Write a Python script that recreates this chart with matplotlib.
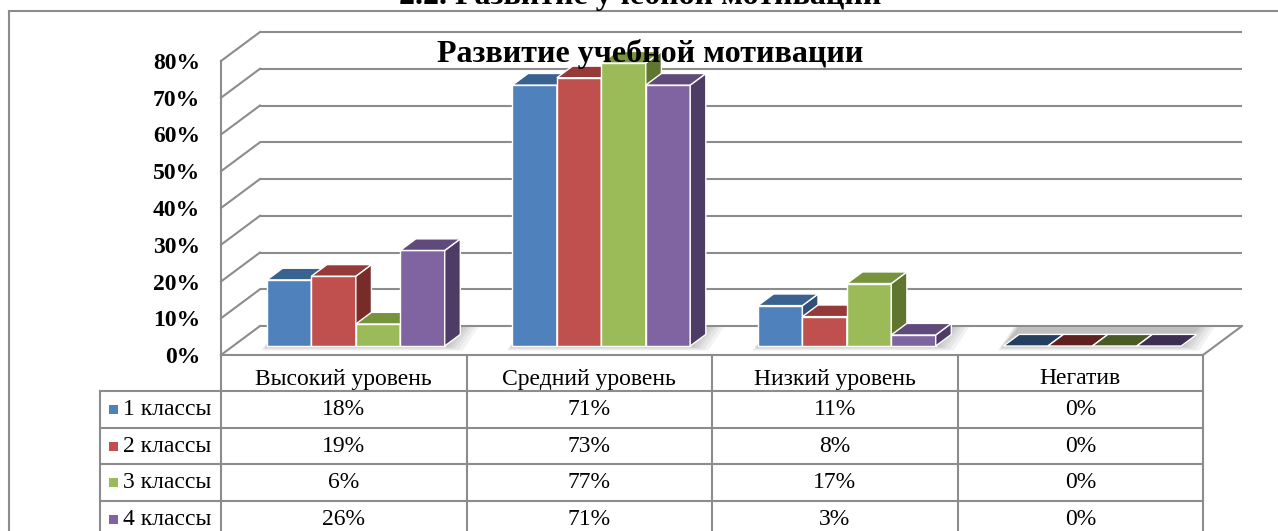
import matplotlib
matplotlib.use("Agg")
import matplotlib.pyplot as plt
from matplotlib.patches import Polygon, Rectangle

# ---- data ----
categories = ["Высокий уровень", "Средний уровень", "Низкий уровень", "Негатив"]
series_names = ["1 классы", "2 классы", "3 классы", "4 классы"]
class1 = [18, 71, 11, 0]
class2 = [19, 73, 8, 0]
class3 = [6, 77, 17, 0]
class4 = [26, 71, 3, 0]
yticks = [0, 10, 20, 30, 40, 50, 60, 70, 80]
ytick_labels = ["0%", "10%", "20%", "30%", "40%", "50%", "60%", "70%", "80%"]
chart_title = "Развитие учебной мотивации"
page_heading = "2.2. Развитие учебной мотивации"

series = [class1, class2, class3, class4]
front_colors = ["#4F81BD", "#C0504D", "#9BBB59", "#8064A2"]
top_colors = ["#3A6290", "#953A38", "#77933C", "#604A7B"]
side_colors = ["#2F5078", "#772C2A", "#5F7530", "#4E3C66"]
zero_colors = ["#243F60", "#5E2120", "#4A5A27", "#3D2F52"]
GRID = "#8C8C8C"
FONT = "Liberation Serif"

# ---- layout (pixel geometry of the figure) ----
W, H = 1278, 531
X0, CW = 221.0, 245.5      # front-left axis x, px per category
Y0, PY = 355.0, 3.675      # floor front y, px per percent


def dx(px):
    return (px - X0) / CW


def dy(py):
    return (Y0 - py) / PY


DX, DY = 39.0 / CW, 29.0 / PY          # wall depth vector (data units)
F0 = 0.31                              # depth position of bar fronts
BD = 0.40                              # bar depth fraction
BW = 0.181                             # bar width (category units)
GAP = (1 - 4 * BW) / 2

fig = plt.figure(figsize=(W / 100, H / 100), dpi=100)
ax = fig.add_axes([0, 0, 1, 1])
ax.set_xlim(dx(0), dx(W))
ax.set_ylim(dy(H), dy(0))
ax.axis("off")

lw = 1.5
# back wall gridlines + left wall diagonals
for v in yticks:
    ax.plot([DX, 4 + DX], [v + DY, v + DY], color=GRID, lw=lw, zorder=1,
            solid_capstyle="butt")
    ax.plot([0, DX], [v, v + DY], color=GRID, lw=lw, zorder=1)
# floor
ax.plot([0, 4], [0, 0], color=GRID, lw=lw, zorder=1)
ax.plot([4, 4 + DX], [0, DY], color=GRID, lw=lw, zorder=1)
# front-left vertical axis line
ax.plot([0, 0], [yticks[-1], dy(H)], color=GRID, lw=lw, zorder=1)

# soft floor shadows (layered, concentric around each group's footprint)
bdx, bdy = BD * DX, BD * DY
for i in range(len(categories)):
    gx0 = i + GAP + F0 * DX
    gx1 = gx0 + 4 * BW + bdx
    fy0 = F0 * DY
    fy1 = DY - 0.3
    for g in [18, 14, 10, 7, 4, 2]:
        gxp, gyp = g / CW, g * 0.25 / PY
        poly = Polygon([(gx0 - gxp * 0.3, fy0 - gyp), (gx1 - bdx + gxp, fy0 - gyp),
                        (gx1 + gxp, fy1), (gx0 + bdx - gxp * 0.3, fy1)],
                       closed=True, facecolor="#6F6F6F", edgecolor="none",
                       alpha=0.09, zorder=2)
        ax.add_patch(poly)

# 3D bars
for i in range(len(categories)):
    for j, s in enumerate(series):
        v = s[i]
        x = i + GAP + j * BW + F0 * DX
        base = F0 * DY
        top = base + v
        z = 3 + i * 4 + j
        if v > 0:
            ax.add_patch(Rectangle((x, base), BW, v, facecolor=front_colors[j],
                                   edgecolor="white", lw=1.0, zorder=z))
            ax.add_patch(Polygon([(x + BW, base), (x + BW, top),
                                  (x + BW + bdx, top + bdy), (x + BW + bdx, base + bdy)],
                                 closed=True, facecolor=side_colors[j],
                                 edgecolor="white", lw=1.0, zorder=z))
            tc = top_colors[j]
        else:
            tc = zero_colors[j]
        ax.add_patch(Polygon([(x, top), (x + BW, top), (x + BW + bdx, top + bdy),
                              (x + bdx, top + bdy)], closed=True, facecolor=tc,
                             edgecolor="white", lw=1.0, zorder=z))

# y tick labels
for v, lab in zip(yticks, ytick_labels):
    ax.text(dx(200), v - 2.5 / PY, lab, ha="right", va="center", fontsize=17,
            fontweight="bold", family=FONT, zorder=30)

# data table
row_lines = [391, 428, 464, 501, 538]
for k in range(1, len(categories) + 1):
    ax.plot([k, k], [0, dy(H)], color=GRID, lw=lw, zorder=1)
ax.plot([dx(100), dx(100)], [dy(row_lines[0]), dy(H)], color=GRID, lw=lw, zorder=1)
for r in row_lines:
    ax.plot([dx(100), 4], [dy(r), dy(r)], color=GRID, lw=lw, zorder=1)

for i, c in enumerate(categories):
    ax.text(i + 0.5, dy(379), c, ha="center", va="center", fontsize=17,
            family=FONT, zorder=30)
for j, (name, s) in enumerate(zip(series_names, series)):
    yc = dy((row_lines[j] + row_lines[j + 1]) / 2)
    ax.add_patch(Rectangle((dx(109), yc - 4.5 / PY), 9 / CW, 9 / PY,
                           facecolor=front_colors[j], edgecolor="none", zorder=30))
    ax.text(dx(123), yc, name, ha="left", va="center", fontsize=17,
            family=FONT, zorder=30)
    for i, v in enumerate(s):
        ax.text(i + 0.5, yc, f"{v}%", ha="center", va="center", fontsize=17,
                family=FONT, zorder=30)

# outer frame
ax.plot([dx(9), dx(W)], [dy(11), dy(11)], color=GRID, lw=lw, zorder=1)
ax.plot([dx(9), dx(9)], [dy(11), dy(H)], color=GRID, lw=lw, zorder=1)

# titles
ax.text(dx(650), dy(62), chart_title, ha="center", va="baseline", fontsize=23,
        fontweight="bold", family=FONT, zorder=50)
ax.text(dx(640), dy(4), page_heading, ha="center", va="baseline", fontsize=23,
        fontweight="bold", family=FONT, zorder=50)

fig.savefig("out.png", dpi=100)
